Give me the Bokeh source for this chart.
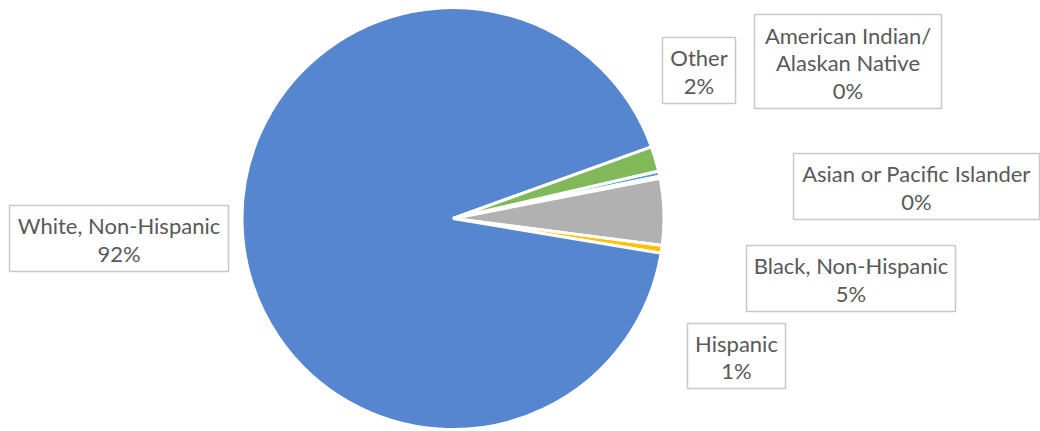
import math
from bokeh.plotting import figure
from bokeh.models import Range1d, ColumnDataSource
from bokeh.embed import file_html
from bokeh.resources import INLINE
from bokeh.core.properties import value

# ---- data ----
categories = ["American Indian/Alaskan Native", "Asian or Pacific Islander",
              "Black, Non-Hispanic", "Hispanic", "White, Non-Hispanic", "Other"]
label_names = [["American Indian/", "Alaskan Native"], ["Asian or Pacific Islander"],
               ["Black, Non-Hispanic"], ["Hispanic"], ["White, Non-Hispanic"], ["Other"]]
percents = [0.4, 0.15, 5.1, 0.6, 91.85, 1.9]
colors = ["#5B9BD5", "#ED7D31", "#B1B1B1", "#FFC000", "#5586CF", "#80B85A"]

# ---- layout (screen pixel coords of the window) ----
W, H = 1040, 431
def Y(sy):
    return H - sy

cx, cy, radius = 452.5, 218.0, 211.0
first_angle_deg = 13.0  # slices go clockwise from here

# label boxes: (left, right, top, bottom) in screen px
boxes = [(754, 941, 14, 108), (793, 1039, 153, 219), (746, 955, 245, 311),
         (687, 785, 323, 388), (9, 228, 205, 271), (662, 735, 37, 103)]

p = figure(width=W, height=H, output_backend="svg", toolbar_location=None,
           x_range=Range1d(0, W), y_range=Range1d(0, H), min_border=0)
p.axis.visible = False
p.grid.visible = False
p.outline_line_color = None
p.background_fill_color = "white"
p.border_fill_color = "white"

total = sum(percents)
starts, ends = [], []
cum = 0.0
for v in percents:
    a_hi = first_angle_deg - cum / total * 360.0
    cum += v
    a_lo = first_angle_deg - cum / total * 360.0
    starts.append(math.radians(a_lo))
    ends.append(math.radians(a_hi))

src = ColumnDataSource(dict(start=starts, end=ends, color=colors, cat=categories))
p.wedge(x=cx, y=Y(cy), radius=radius, start_angle="start", end_angle="end",
        fill_color="color", line_color="white", line_width=3, source=src)

# labels
pitch = 27.5
for (l, r, t, b), names, v in zip(boxes, label_names, percents):
    p.quad(left=l, right=r, top=Y(t), bottom=Y(b), fill_color="white",
           line_color="#C8C8C8", line_width=1.5)
    lines = names + [f"{round(v)}%"]
    mid = (t + b) / 2 + 1
    n = len(lines)
    ys = [Y(mid + (i - (n - 1) / 2) * pitch) for i in range(n)]
    p.text(x=[(l + r) / 2] * n, y=ys, text=lines, text_align="center",
           text_baseline="middle", text_font=value("Lato"),
           text_font_size="22px", text_color="#595959")

open("out.html", "w").write(file_html(p, INLINE))
